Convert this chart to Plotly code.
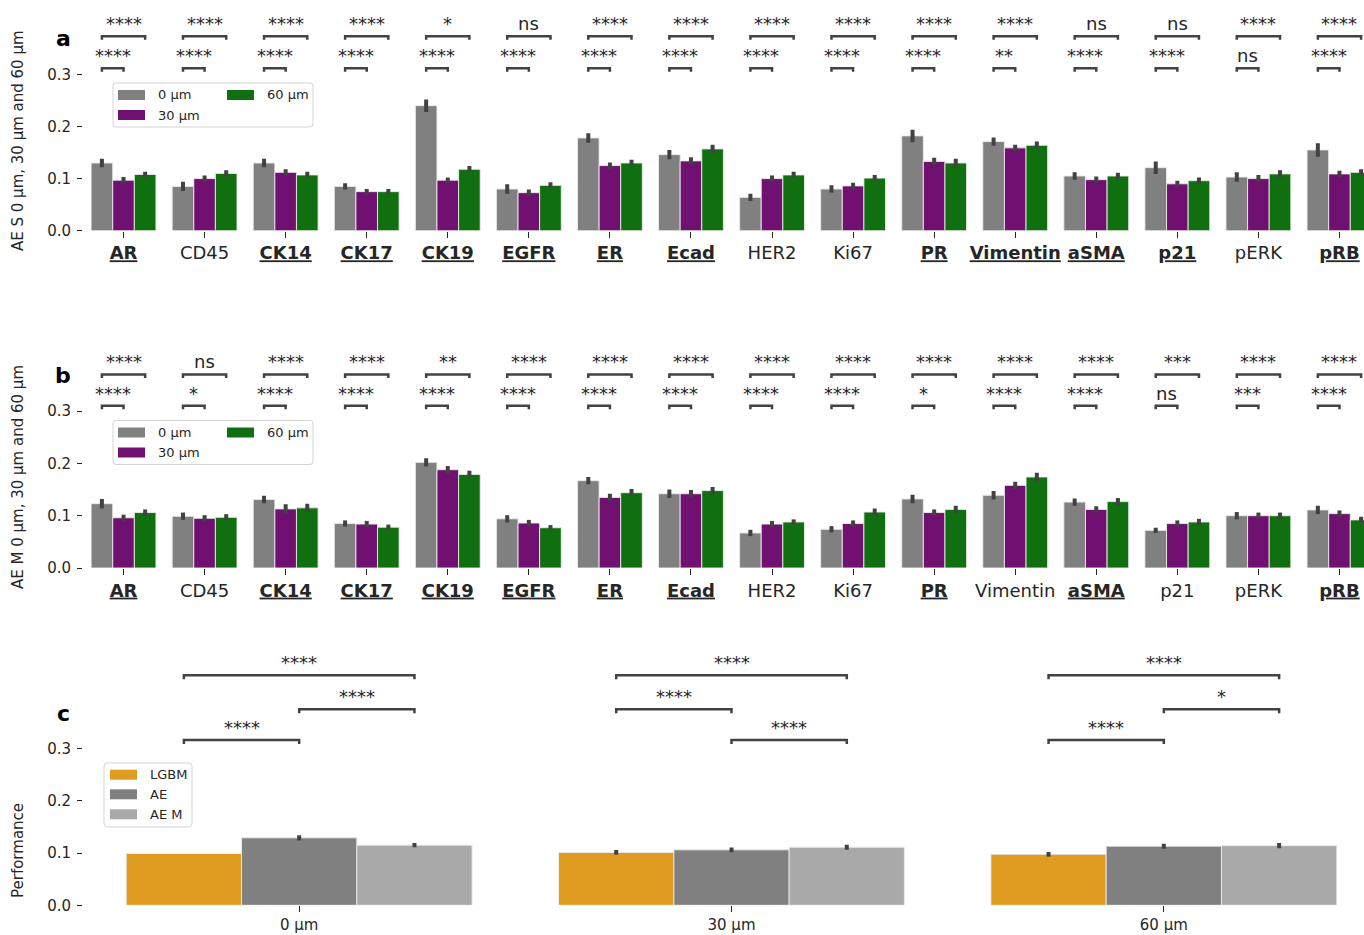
import plotly.graph_objects as go

W, H = 1364, 935

# ---------------- data ----------------
markers = ["AR", "CD45", "CK14", "CK17", "CK19", "EGFR", "ER", "Ecad",
           "HER2", "Ki67", "PR", "Vimentin", "aSMA", "p21", "pERK", "pRB"]
radius_labels = ["0 µm", "30 µm", "60 µm"]
radius_colors = ["#808080", "#701070", "#107010"]

# panel a: AE S
s_0 = [0.130, 0.085, 0.130, 0.085, 0.240, 0.080, 0.178, 0.146,
       0.064, 0.080, 0.182, 0.171, 0.105, 0.121, 0.103, 0.155]
s_30 = [0.097, 0.100, 0.112, 0.075, 0.097, 0.073, 0.125, 0.134,
        0.100, 0.086, 0.133, 0.159, 0.098, 0.090, 0.100, 0.109]
s_60 = [0.108, 0.110, 0.107, 0.075, 0.118, 0.087, 0.130, 0.157,
        0.107, 0.101, 0.130, 0.164, 0.105, 0.096, 0.109, 0.112]
s_0_err = [0.008, 0.009, 0.008, 0.006, 0.012, 0.009, 0.009, 0.009,
           0.007, 0.007, 0.012, 0.008, 0.007, 0.012, 0.009, 0.013]
s_30_err = [0.006, 0.006, 0.006, 0.005, 0.005, 0.006, 0.006, 0.007,
            0.006, 0.006, 0.007, 0.006, 0.006, 0.006, 0.007, 0.006]
s_60_err = [0.005, 0.006, 0.006, 0.005, 0.006, 0.006, 0.006, 0.008,
            0.006, 0.006, 0.008, 0.007, 0.006, 0.006, 0.007, 0.006]
s_sig_0_30 = ["****", "****", "****", "****", "****", "****", "****", "****",
              "****", "****", "****", "**", "****", "****", "ns", "****"]
s_sig_0_60 = ["****", "****", "****", "****", "*", "ns", "****", "****",
              "****", "****", "****", "****", "ns", "ns", "****", "****"]
s_emphasis = ["AR", "CK14", "CK17", "CK19", "EGFR", "ER", "Ecad", "PR",
              "Vimentin", "aSMA", "p21", "pRB"]

# panel b: AE M
m_0 = [0.123, 0.099, 0.131, 0.085, 0.202, 0.094, 0.167, 0.142,
       0.067, 0.074, 0.132, 0.139, 0.126, 0.072, 0.100, 0.111]
m_30 = [0.096, 0.095, 0.113, 0.084, 0.188, 0.086, 0.135, 0.142,
        0.084, 0.085, 0.106, 0.158, 0.112, 0.085, 0.100, 0.104]
m_60 = [0.106, 0.097, 0.115, 0.078, 0.179, 0.077, 0.144, 0.148,
        0.088, 0.107, 0.112, 0.174, 0.127, 0.088, 0.100, 0.092]
m_0_err = [0.009, 0.007, 0.007, 0.006, 0.008, 0.007, 0.007, 0.008,
           0.006, 0.006, 0.008, 0.008, 0.007, 0.005, 0.007, 0.008]
m_30_err = [0.006, 0.006, 0.009, 0.006, 0.007, 0.006, 0.007, 0.007,
            0.006, 0.006, 0.006, 0.007, 0.006, 0.006, 0.006, 0.006]
m_60_err = [0.006, 0.006, 0.008, 0.005, 0.007, 0.005, 0.007, 0.007,
            0.005, 0.007, 0.007, 0.008, 0.007, 0.006, 0.006, 0.006]
m_sig_0_30 = ["****", "*", "****", "****", "****", "****", "****", "****",
              "****", "****", "*", "****", "****", "ns", "***", "****"]
m_sig_0_60 = ["****", "ns", "****", "****", "**", "****", "****", "****",
              "****", "****", "****", "****", "****", "***", "****", "****"]
m_emphasis = ["AR", "CK14", "CK17", "CK19", "EGFR", "ER", "Ecad", "PR",
              "aSMA", "pRB"]

# panel c: overall performance
radii = ["0 µm", "30 µm", "60 µm"]
methods = ["LGBM", "AE", "AE M"]
method_colors = ["#DF9C20", "#808080", "#A9A9A9"]
perf_lgbm = [0.099, 0.101, 0.0975]
perf_ae = [0.129, 0.106, 0.113]
perf_aem = [0.115, 0.111, 0.114]
perf_lgbm_err = [0.0, 0.0045, 0.0045]
perf_ae_err = [0.005, 0.0045, 0.0048]
perf_aem_err = [0.004, 0.0048, 0.005]
# (method i, method j, label) from lowest to highest bracket for each radius
perf_tests = [
    [(0, 1, "****"), (1, 2, "****"), (0, 2, "****")],
    [(1, 2, "****"), (0, 1, "****"), (0, 2, "****")],
    [(0, 1, "****"), (1, 2, "*"), (0, 2, "****")],
]

# ---------------- layout helpers ----------------
FONT = "DejaVu Sans"
TXT = "#262626"
ERR = "#424242"
AX_LEFT = 83.0
AX_SPAN = 1297.0


def pxx(p):
    return p / W


def pxy(p):
    return 1 - p / H


def x_range(n):
    return [-0.5, -0.5 + n * (W - AX_LEFT) / AX_SPAN]


def y_domain(zero_px, k, top):
    return [pxy(zero_px), pxy(zero_px - top * k)]


def tick_label(name, emphasis):
    return f"<b><u>{name}</u></b>" if name in emphasis else name


fig = go.Figure()

# panel geometry: (zero line px, px per unit, top of range)
geo = {
    "a": (230.7, 521.0, 0.42),
    "b": (568.0, 523.0, 0.42),
    "c": (905.3, 523.0, 0.50),
}
axes = {"a": ("x", "y"), "b": ("x2", "y2"), "c": ("x3", "y3")}
bar_w = 0.8 / 3
offsets = [-bar_w, 0.0, bar_w]


def add_bars(panel, cats, series, colors, names, errs):
    xa, ya = axes[panel]
    for vals, col, nm, er in zip(series, colors, names, errs):
        fig.add_trace(go.Bar(
            x=list(range(len(cats))), y=vals, name=nm,
            marker=dict(color=col, line=dict(color="rgba(235,235,235,0.9)", width=1)),
            error_y=dict(type="data", array=er, visible=True, color=ERR,
                         thickness=4, width=0),
            xaxis=xa, yaxis=ya, showlegend=False,
        ))


def add_bracket(panel, x0, x1, y, label, depth_px=3.5, fs=18):
    xa, ya = axes[panel]
    k = geo[panel][1]
    d = depth_px / k
    fig.add_shape(type="path",
                  path=f"M {x0},{y - d} L {x0},{y} L {x1},{y} L {x1},{y - d}",
                  xref=xa, yref=ya, line=dict(color=ERR, width=2.5))
    fig.add_annotation(x=(x0 + x1) / 2, y=y, xref=xa, yref=ya, text=label,
                       showarrow=False, yanchor="bottom", xanchor="center",
                       font=dict(family=FONT, size=fs, color=TXT))


def rounded_rect(x0, y0, x1, y1, r):
    X = lambda p: pxx(p)
    Y = lambda p: pxy(p)
    return (f"M {X(x0 + r)},{Y(y0)} L {X(x1 - r)},{Y(y0)} "
            f"Q {X(x1)},{Y(y0)} {X(x1)},{Y(y0 + r)} L {X(x1)},{Y(y1 - r)} "
            f"Q {X(x1)},{Y(y1)} {X(x1 - r)},{Y(y1)} L {X(x0 + r)},{Y(y1)} "
            f"Q {X(x0)},{Y(y1)} {X(x0)},{Y(y1 - r)} L {X(x0)},{Y(y0 + r)} "
            f"Q {X(x0)},{Y(y0)} {X(x0 + r)},{Y(y0)} Z")


def add_legend(box, entries):
    x0, y0, x1, y1 = box
    fig.add_shape(type="path", path=rounded_rect(x0, y0, x1, y1, 3),
                  xref="paper", yref="paper",
                  line=dict(color="#d4d4d4", width=1),
                  fillcolor="rgba(255,255,255,0.85)")
    for label, color, px_, py_ in entries:
        fig.add_shape(type="rect", xref="paper", yref="paper",
                      x0=pxx(px_), x1=pxx(px_ + 27),
                      y0=pxy(py_ + 5), y1=pxy(py_ - 5),
                      line=dict(width=0), fillcolor=color)
        fig.add_annotation(x=pxx(px_ + 38), y=pxy(py_), xref="paper", yref="paper",
                           text=label, showarrow=False, xanchor="left",
                           yanchor="middle",
                           font=dict(family=FONT, size=13, color=TXT))


def side_text(x, y, text, size, bold=False, angle=0):
    fig.add_annotation(x=pxx(x), y=pxy(y), xref="paper", yref="paper",
                       text=f"<b>{text}</b>" if bold else text,
                       showarrow=False, xanchor="center", yanchor="middle",
                       textangle=angle,
                       font=dict(family=FONT, size=size, color="#000000" if bold else TXT))


# ---------------- panels a and b ----------------
add_bars("a", markers, [s_0, s_30, s_60], radius_colors, radius_labels,
         [s_0_err, s_30_err, s_60_err])
add_bars("b", markers, [m_0, m_30, m_60], radius_colors, radius_labels,
         [m_0_err, m_30_err, m_60_err])

for panel, low, high, lo_y, hi_y in [("a", s_sig_0_30, s_sig_0_60, 0.312, 0.373),
                                     ("b", m_sig_0_30, m_sig_0_60, 0.310, 0.370)]:
    for i in range(len(markers)):
        add_bracket(panel, i + offsets[0], i + offsets[1], lo_y, low[i])
        add_bracket(panel, i + offsets[0], i + offsets[2], hi_y, high[i])

# ---------------- panel c ----------------
add_bars("c", radii, [perf_lgbm, perf_ae, perf_aem], method_colors, methods,
         [perf_lgbm_err, perf_ae_err, perf_aem_err])
perf_levels = [0.316, 0.375, 0.440]
for g, tests in enumerate(perf_tests):
    for lvl, (i, j, lab) in zip(perf_levels, tests):
        add_bracket("c", g + offsets[i], g + offsets[j], lvl, lab, depth_px=4)

# ---------------- legends ----------------
add_legend((113, 83, 313, 127), [
    (radius_labels[0], radius_colors[0], 118, 95),
    (radius_labels[1], radius_colors[1], 118, 115),
    (radius_labels[2], radius_colors[2], 227, 95),
])
add_legend((113, 420.5, 313, 464.5), [
    (radius_labels[0], radius_colors[0], 118, 432.5),
    (radius_labels[1], radius_colors[1], 118, 452.5),
    (radius_labels[2], radius_colors[2], 227, 432.5),
])
add_legend((104, 763, 192, 827), [
    (methods[0], method_colors[0], 110, 774.7),
    (methods[1], method_colors[1], 110, 794.3),
    (methods[2], method_colors[2], 110, 814.3),
])

# ---------------- axis titles and panel letters ----------------
side_text(18, 141, "AE S 0 µm, 30 µm and 60 µm", 15, angle=-90)
side_text(18, 477, "AE M 0 µm, 30 µm and 60 µm", 15, angle=-90)
side_text(18, 851, "Performance", 15, angle=-90)
side_text(63, 38, "a", 22, bold=True)
side_text(63, 375, "b", 22, bold=True)
side_text(63, 713, "c", 22, bold=True)

# ---------------- axes ----------------
xcommon = dict(showgrid=False, zeroline=False, showline=False, ticks="outside",
               ticklen=6, tickwidth=1.3, tickcolor=TXT, fixedrange=True,
               automargin=False)
ycommon = dict(showgrid=False, zeroline=False, showline=False, ticks="outside",
               ticklen=5, tickwidth=1.3, tickcolor=TXT, automargin=False,
               tickvals=[0, 0.1, 0.2, 0.3], ticktext=["0.0", "0.1", "0.2", "0.3"],
               tickfont=dict(family=FONT, size=15, color=TXT),
               ticklabelstandoff=3)

xdom = [pxx(AX_LEFT), 1.0]
fig.update_layout(
    xaxis=dict(**xcommon, domain=xdom, anchor="y", range=x_range(len(markers)),
               tickvals=list(range(len(markers))),
               ticktext=[tick_label(m, s_emphasis) for m in markers],
               tickfont=dict(family=FONT, size=18, color=TXT)),
    yaxis=dict(**ycommon, anchor="x", range=[0, geo["a"][2]],
               domain=y_domain(*geo["a"])),
    xaxis2=dict(**xcommon, domain=xdom, anchor="y2", range=x_range(len(markers)),
                tickvals=list(range(len(markers))),
                ticktext=[tick_label(m, m_emphasis) for m in markers],
                tickfont=dict(family=FONT, size=18, color=TXT)),
    yaxis2=dict(**ycommon, anchor="x2", range=[0, geo["b"][2]],
                domain=y_domain(*geo["b"])),
    xaxis3=dict(**xcommon, domain=xdom, anchor="y3", range=x_range(len(radii)),
                tickvals=list(range(len(radii))), ticktext=radii,
                tickfont=dict(family=FONT, size=15, color=TXT)),
    yaxis3=dict(**ycommon, anchor="x3", range=[0, geo["c"][2]],
                domain=y_domain(*geo["c"])),
    barmode="group", bargap=0.2, bargroupgap=0,
    width=W, height=H,
    margin=dict(l=0, r=0, t=0, b=0, pad=0, autoexpand=False),
    paper_bgcolor="white", plot_bgcolor="white",
    showlegend=False,
    font=dict(family=FONT, color=TXT),
)

fig.write_html("out.html")
